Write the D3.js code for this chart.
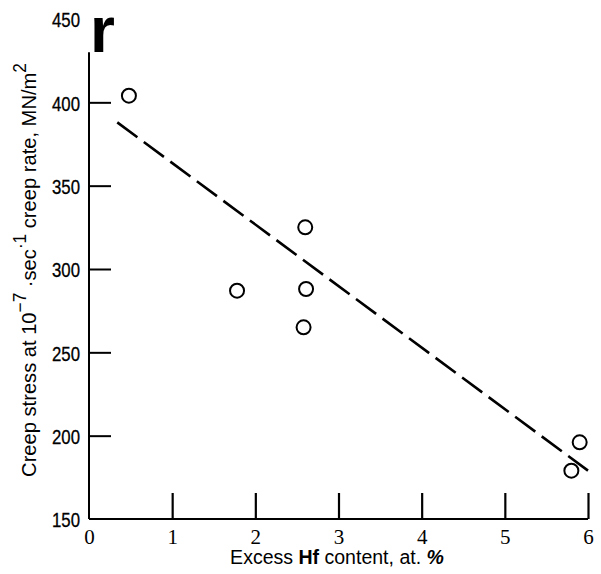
<!DOCTYPE html>
<html>
<head>
<meta charset="utf-8">
<script src="https://cdn.jsdelivr.net/npm/d3@7"></script>
<style>
  body { margin: 0; background: #fff; }
  svg { display: block; }
</style>
</head>
<body>
<div id="chart"></div>
<script>
// data
const hfContent = [0.48, 1.78, 2.6, 2.61, 2.58, 5.8, 5.9];
const creepStress = [404, 287, 325, 288, 265, 179, 196];
const fitX = [0.34, 6.0];
const fitY = [388, 179];
const xTicks = [0, 1, 2, 3, 4, 5, 6];
const yTicks = [150, 200, 250, 300, 350, 400, 450];

const width = 601, height = 574;
const margin = { top: 19, right: 13, bottom: 55, left: 89 };
const sans = '"Liberation Sans", Arial, sans-serif';

const svg = d3.select('#chart').append('svg')
  .attr('width', width)
  .attr('height', height);

const x = d3.scaleLinear().domain([0, 6]).range([margin.left, width - margin.right]);
const y = d3.scaleLinear().domain([150, 450]).range([height - margin.bottom, margin.top]);

// y axis, ticks pointing inward, labels squeezed like a condensed face
const yAxisG = svg.append('g')
  .attr('transform', `translate(${margin.left},0)`)
  .call(d3.axisLeft(y).tickValues(yTicks).tickSizeInner(-22).tickSizeOuter(0).tickPadding(0));
yAxisG.select('.domain').remove();
yAxisG.selectAll('.tick line').attr('stroke', '#000').attr('stroke-width', 2)
  .filter(d => d === 450 || d === 150).remove();
yAxisG.selectAll('.tick text')
  .attr('font-family', sans)
  .attr('font-size', 21)
  .attr('fill', '#000')
  .attr('stroke', '#000')
  .attr('stroke-width', 0.3)
  .attr('x', 0)
  .attr('transform', 'translate(-9,1) scale(0.8,1)');

// x axis, ticks pointing up
const xAxisG = svg.append('g')
  .attr('transform', `translate(0,${y(150)})`)
  .call(d3.axisBottom(x).tickValues(xTicks).tickFormat(d3.format('d'))
    .tickSizeInner(-26).tickSizeOuter(0).tickPadding(10));
xAxisG.select('.domain').remove();
xAxisG.selectAll('.tick line').attr('stroke', '#000').attr('stroke-width', 2.2)
  .filter(d => d === 0).remove();
xAxisG.selectAll('.tick text')
  .attr('font-family', '"Liberation Serif", "DejaVu Serif", serif')
  .attr('font-size', 21)
  .attr('fill', '#000');

// axis lines
svg.append('line')
  .attr('x1', x(0)).attr('x2', x(0))
  .attr('y1', y(150)).attr('y2', y(430))
  .attr('stroke', '#000').attr('stroke-width', 2);
svg.append('line')
  .attr('x1', x(0)).attr('x2', x(6))
  .attr('y1', y(150)).attr('y2', y(150))
  .attr('stroke', '#000').attr('stroke-width', 2);

// dashed fit line
svg.append('path')
  .datum(fitX.map((d, i) => [d, fitY[i]]))
  .attr('fill', 'none')
  .attr('stroke', '#000')
  .attr('stroke-width', 2.6)
  .attr('stroke-dasharray', '25 8')
  .attr('d', d3.line().x(d => x(d[0])).y(d => y(d[1])));

// open circles
svg.selectAll('.pt')
  .data(hfContent.map((d, i) => ({ x: d, y: creepStress[i] })))
  .enter()
  .append('circle')
  .attr('class', 'pt')
  .attr('cx', d => x(d.x))
  .attr('cy', d => y(d.y))
  .attr('r', 7)
  .attr('fill', 'none')
  .attr('stroke', '#000')
  .attr('stroke-width', 2);

// panel letter
svg.append('text')
  .attr('x', 90).attr('y', 52)
  .attr('font-family', sans)
  .attr('font-weight', 'bold')
  .attr('font-size', 64)
  .text('r');

// squeeze a label so it spans the wanted length
function fitLength(sel, target) {
  const w = sel.node().getComputedTextLength();
  return target / w;
}

// y label
const yLabelG = svg.append('g')
  .attr('transform', `translate(36,${(477 + 63) / 2}) rotate(-90)`);
const yLabel = yLabelG.append('text')
  .attr('text-anchor', 'middle')
  .attr('font-family', sans)
  .attr('font-size', 21)
  .attr('fill', '#000');
yLabel.append('tspan').text('Creep stress at 10');
yLabel.append('tspan').attr('dy', -10).attr('font-size', 18).text('−7');
yLabel.append('tspan').attr('dy', 10).text(' ·sec');
yLabel.append('tspan').attr('dy', -10).attr('font-size', 18).text('·1');
yLabel.append('tspan').attr('dy', 10).text(' creep rate,  MN/m');
yLabel.append('tspan').attr('dy', -10).attr('font-size', 18).text('2');
yLabel.attr('transform', `scale(${fitLength(yLabel, 414)},1)`);

// x label
const xLabel = svg.append('text')
  .attr('text-anchor', 'middle')
  .attr('font-family', sans)
  .attr('font-size', 21)
  .attr('fill', '#000');
xLabel.append('tspan').text('Excess ');
xLabel.append('tspan').attr('font-weight', 'bold').text('Hf');
xLabel.append('tspan').text(' content,  at. ');
xLabel.append('tspan').attr('font-weight', 'bold').attr('font-style', 'italic').text('%');
xLabel.attr('transform', `translate(337,564) scale(${fitLength(xLabel, 214)},1)`);
</script>
</body>
</html>
